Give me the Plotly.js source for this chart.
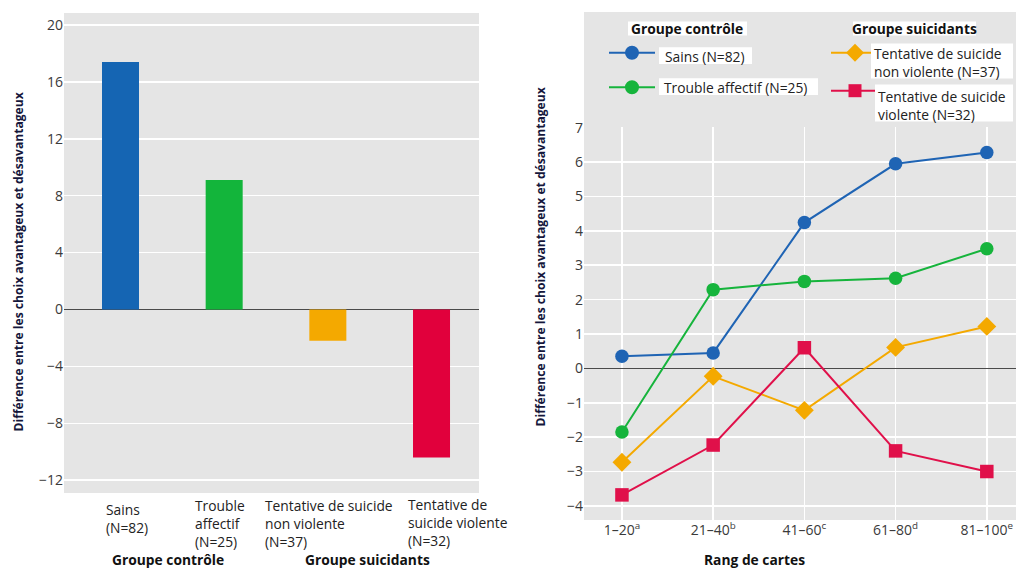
<!DOCTYPE html>
<html>
<head>
<meta charset="utf-8">
<script src="https://cdn.plot.ly/plotly-3.0.1.min.js"></script>
<style>html,body{margin:0;padding:0;background:#fff;}#chart{width:1018px;height:569px;}</style>
</head>
<body>
<div id="chart"></div>
<script>
// ---- Data ----
const barCategories = ["Sains<br>(N=82)", "Trouble<br>affectif<br>(N=25)", "Tentative de suicide<br>non violente<br>(N=37)", "Tentative de<br>suicide violente<br>(N=32)"];
const barValues = [17.4, 9.1, -2.2, -10.4];
const barColors = ["#1565b3", "#13b53b", "#f4a900", "#e1003c"];
const groupLabels = ["Groupe contrôle", "Groupe suicidants"];

const rangLabels = ["1–20<sup>a</sup>", "21–40<sup>b</sup>", "41–60<sup>c</sup>", "61–80<sup>d</sup>", "81–100<sup>e</sup>"];
const sains = [0.35, 0.45, 4.24, 5.95, 6.28];
const troubleAffectif = [-1.85, 2.29, 2.53, 2.62, 3.48];
const tentativeNonViolente = [-2.73, -0.23, -1.22, 0.61, 1.22];
const tentativeViolente = [-3.68, -2.23, 0.60, -2.40, -3.00];
const seriesNames = ["Sains (N=82)", "Trouble affectif (N=25)", "Tentative de suicide<br>non violente (N=37)", "Tentative de suicide<br>violente (N=32)"];

const yTitle = "Différence entre les choix avantageux et désavantageux";
const xTitleRight = "Rang de cartes";

// ---- Helpers ----
const W = 1018, H = 569;
const px = x => x / W;
const py = y => 1 - y / H;
const FONT = "Open Sans, DejaVu Sans, sans-serif";
const TICK = {family: FONT, size: 14, color: "#3a3a3a"};
const TXT = {family: FONT, size: 13.8, color: "#222"};
const BOLD = {family: FONT, size: 13.8, color: "#111", weight: 700};

const idx = barValues.map((_, i) => i);
const rx = rangLabels.map((_, i) => i);

const cBlue = "#1f64b4", cGreen = "#16b43c", cOrange = "#f4a900", cRed = "#e0104a";

const traces = [
  {type: "bar", x: idx, y: barValues, width: 0.357, marker: {color: barColors}, xaxis: "x", yaxis: "y", showlegend: false, hoverinfo: "y"},
  {type: "scatter", mode: "lines+markers", x: rx, y: sains, xaxis: "x2", yaxis: "y2", name: seriesNames[0],
   line: {color: cBlue, width: 2}, marker: {symbol: "circle", size: 13.5, color: cBlue}, showlegend: false},
  {type: "scatter", mode: "lines+markers", x: rx, y: troubleAffectif, xaxis: "x2", yaxis: "y2", name: seriesNames[1],
   line: {color: cGreen, width: 2}, marker: {symbol: "circle", size: 13.5, color: cGreen}, showlegend: false},
  {type: "scatter", mode: "lines+markers", x: rx, y: tentativeNonViolente, xaxis: "x2", yaxis: "y2", name: seriesNames[2],
   line: {color: cOrange, width: 2}, marker: {symbol: "diamond", size: 14.5, color: cOrange}, showlegend: false},
  {type: "scatter", mode: "lines+markers", x: rx, y: tentativeViolente, xaxis: "x2", yaxis: "y2", name: seriesNames[3],
   line: {color: cRed, width: 2}, marker: {symbol: "square", size: 13.5, color: cRed}, showlegend: false}
];

const annotations = [];
// left category labels (left aligned, tied to category positions)
const barLabelShift = [-15.5, -30, -63.5, -24.8];
const barLabelTop = [498.5, 495, 495, 494];
barCategories.forEach((t, i) => annotations.push({xref: "x", x: i, xshift: barLabelShift[i], yref: "paper", y: py(barLabelTop[i]),
  xanchor: "left", yanchor: "top", align: "left", text: t, showarrow: false, font: TXT, borderpad: 0}));

annotations.push({xref: "paper", yref: "paper", x: px(168), y: py(559.5), text: groupLabels[0], showarrow: false, font: BOLD, xanchor: "center", yanchor: "middle", borderpad: 0});
annotations.push({xref: "paper", yref: "paper", x: px(367.5), y: py(559.5), text: groupLabels[1], showarrow: false, font: BOLD, xanchor: "center", yanchor: "middle", borderpad: 0});
// y titles
const YT = {family: FONT, size: 12.1, color: "#15173c", weight: 700};
annotations.push({xref: "paper", yref: "paper", x: px(18), y: py(262.5), text: yTitle, textangle: -90, showarrow: false, font: YT, xanchor: "center", yanchor: "middle"});
annotations.push({xref: "paper", yref: "paper", x: px(540), y: py(257.5), text: yTitle, textangle: -90, showarrow: false, font: YT, xanchor: "center", yanchor: "middle"});
annotations.push({xref: "paper", yref: "paper", x: px(754), y: py(559.5), text: xTitleRight, showarrow: false, font: BOLD, xanchor: "center", yanchor: "middle", borderpad: 0});

// legend (custom)
annotations.push({xref: "paper", yref: "paper", x: px(687), y: py(28.5), text: groupLabels[0], showarrow: false, font: BOLD, xanchor: "center", yanchor: "middle", borderpad: 0});
annotations.push({xref: "paper", yref: "paper", x: px(914), y: py(28.5), text: groupLabels[1], showarrow: false, font: BOLD, xanchor: "center", yanchor: "middle", borderpad: 0});
const legText = (t, x, yTop) => annotations.push({xref: "paper", yref: "paper", x: px(x), y: py(yTop), text: t, showarrow: false, font: TXT,
  xanchor: "left", yanchor: "top", align: "left", borderpad: 0});
legText(seriesNames[0], 664, 46.3);
legText(seriesNames[1], 663, 77.3);
legText(seriesNames[2], 873, 42.8);
legText(seriesNames[3], 877, 85.8);

const whiteBox = (x0, x1, y0, y1) => ({type: "rect", xref: "paper", yref: "paper", x0: px(x0), x1: px(x1), y0: py(y1), y1: py(y0), fillcolor: "#ffffff", line: {width: 0}, layer: "above"});
const shapes = [
  {type: "rect", xref: "paper", yref: "paper", x0: px(584), x1: px(1016), y0: py(127), y1: py(12), fillcolor: "#e5e5e5", line: {width: 0}, layer: "below"},
  whiteBox(628, 747, 21.5, 35.5),
  whiteBox(853, 976, 21.5, 35.5),
  whiteBox(659, 752, 47.3, 64),
  whiteBox(659, 818, 78.3, 95),
  whiteBox(871, 1013, 43.5, 78.5),
  whiteBox(875, 1013, 84.5, 121.5),
  {type: "line", xref: "paper", yref: "paper", x0: px(609), x1: px(655), y0: py(52.7), y1: py(52.7), line: {color: cBlue, width: 2}},
  {type: "circle", xref: "paper", yref: "paper", xsizemode: "pixel", ysizemode: "pixel", xanchor: px(632), yanchor: py(52.7), x0: -7, x1: 7, y0: -7, y1: 7, fillcolor: cBlue, line: {width: 0}},
  {type: "line", xref: "paper", yref: "paper", x0: px(609), x1: px(655), y0: py(87.3), y1: py(87.3), line: {color: cGreen, width: 2}},
  {type: "circle", xref: "paper", yref: "paper", xsizemode: "pixel", ysizemode: "pixel", xanchor: px(632), yanchor: py(87.3), x0: -7, x1: 7, y0: -7, y1: 7, fillcolor: cGreen, line: {width: 0}},
  {type: "line", xref: "paper", yref: "paper", x0: px(831), x1: px(871), y0: py(52.7), y1: py(52.7), line: {color: cOrange, width: 2}},
  {type: "path", xref: "paper", yref: "paper", xsizemode: "pixel", ysizemode: "pixel", xanchor: px(855), yanchor: py(52.7), path: "M0,9 L9,0 L0,-9 L-9,0 Z", fillcolor: cOrange, line: {width: 0}},
  {type: "line", xref: "paper", yref: "paper", x0: px(831), x1: px(875), y0: py(90.7), y1: py(90.7), line: {color: cRed, width: 2}},
  {type: "rect", xref: "paper", yref: "paper", xsizemode: "pixel", ysizemode: "pixel", xanchor: px(855), yanchor: py(90.7), x0: -6.5, x1: 6.5, y0: -6.5, y1: 6.5, fillcolor: cRed, line: {width: 0}}
];

const layout = {
  width: W, height: H,
  margin: {l: 0, r: 0, t: 0, b: 0, pad: 0},
  paper_bgcolor: "#ffffff", plot_bgcolor: "#e5e5e5",
  font: {family: FONT, color: "#333"},
  showlegend: false,
  xaxis: {domain: [px(64), px(479)], range: [-0.545, 3.458], showgrid: false, zeroline: false, showticklabels: false, ticks: "", anchor: "y", fixedrange: true},
  yaxis: {domain: [py(493), py(13)], range: [-12.9, 20.84], tickvals: [-12, -8, -4, 0, 4, 8, 12, 16, 20], showgrid: true, gridcolor: "#ffffff", gridwidth: 1.5,
          zeroline: true, zerolinecolor: "#4a4a4a", zerolinewidth: 1.5, tickfont: TICK, ticks: "", anchor: "x", fixedrange: true},
  xaxis2: {domain: [px(584), px(1016)], range: [-0.416, 4.32], tickvals: rx, ticktext: rangLabels, showgrid: true, gridcolor: "#ffffff", gridwidth: 1.5,
           zeroline: false, tickfont: TICK, ticks: "", anchor: "y2", fixedrange: true},
  yaxis2: {domain: [py(520), py(127)], range: [-4.41, 7.02], dtick: 1, tick0: 0, showgrid: true, gridcolor: "#ffffff", gridwidth: 1.5,
           zeroline: true, zerolinecolor: "#4a4a4a", zerolinewidth: 1.5, tickfont: TICK, ticks: "", anchor: "x2", fixedrange: true},
  annotations: annotations,
  shapes: shapes
};

Plotly.newPlot("chart", traces, layout, {displayModeBar: false, staticPlot: true});
</script>
</body>
</html>
